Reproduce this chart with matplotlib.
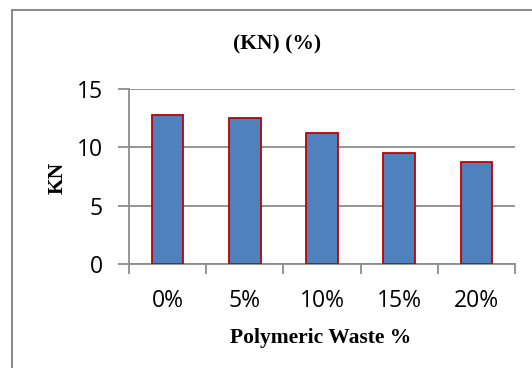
import matplotlib.pyplot as plt
from matplotlib.patches import Rectangle

# load at failure for each waste content
categories = ["0%", "5%", "10%", "15%", "20%"]
load_kn = [12.75, 12.55, 11.2, 9.5, 8.75]
y_ticks = [0, 5, 10, 15]

fig = plt.figure(figsize=(5.32, 3.68), dpi=100)
ax = fig.add_axes([0.2425, 0.283, 0.7255, 0.475])

# chart area border (cut off on the right and bottom)
fig.patches.append(Rectangle((12 / 532, -0.1), 1.2, 1 - 10 / 368 + 0.1,
                             transform=fig.transFigure, fill=False,
                             edgecolor="#8c8c8c", linewidth=1.5))

x = range(len(categories))
ax.bar(x, load_kn, width=0.41, color="#4F81BD", edgecolor="#C00000",
       linewidth=1.3, zorder=3)

ax.set_xlim(-0.5, len(categories) - 0.5)
ax.set_ylim(0, 15)
ax.set_yticks(y_ticks)
ax.set_xticks([i - 0.5 for i in range(len(categories) + 1)], minor=False)
ax.set_xticklabels([])
ax.set_xticks(list(x), minor=True)
ax.set_xticklabels(categories, minor=True)

ax.yaxis.grid(True, color="#8c8c8c", linewidth=1.3, zorder=0)
for s in ["top", "right"]:
    ax.spines[s].set_visible(False)
for s in ["left", "bottom"]:
    ax.spines[s].set_color("#8c8c8c")
    ax.spines[s].set_linewidth(1.3)

ax.tick_params(axis="x", which="major", length=7, width=1.3, color="#8c8c8c",
               direction="out")
ax.tick_params(axis="x", which="minor", length=0, pad=18)
ax.tick_params(axis="y", length=8, width=1.3, color="#8c8c8c", pad=11)
for lab in ax.get_yticklabels() + ax.get_xticklabels(minor=True):
    lab.set_fontfamily("Open Sans")
    lab.set_fontsize(16.5)

serif = dict(family="Liberation Serif", weight="bold")
fig.text(277 / 532, 1 - 44 / 368, "(KN) (%)", ha="center", va="center",
         fontsize=15.5, **serif)
fig.text(321 / 532, 1 - 338 / 368, "Polymeric Waste %", ha="center",
         va="center", fontsize=15.5, **serif)
fig.text(58 / 532, 1 - 178 / 368, "KN", ha="center", va="center",
         rotation=90, fontsize=15.5, **serif)

fig.savefig("out.png", dpi=100)
